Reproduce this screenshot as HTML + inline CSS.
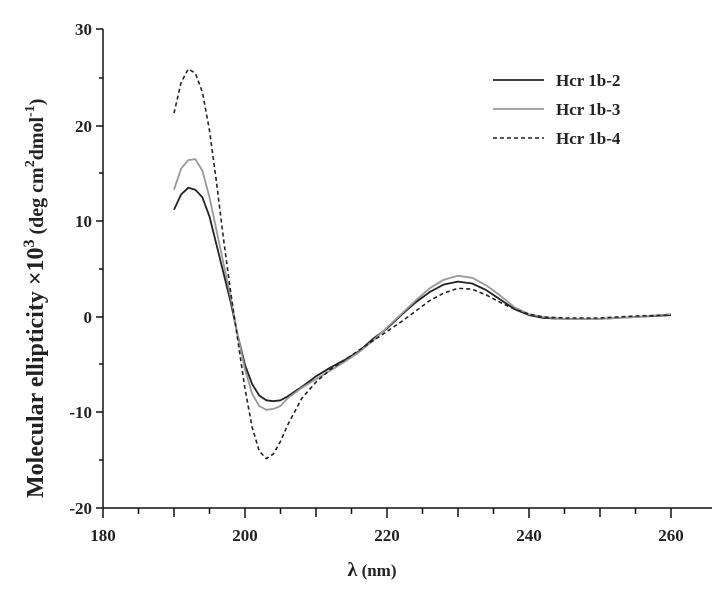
<!DOCTYPE html>
<html><head><meta charset="utf-8"><style>html,body{margin:0;padding:0;background:#fff}svg{display:block}</style></head>
<body>
<svg width="723" height="596" viewBox="0 0 723 596" xmlns="http://www.w3.org/2000/svg" font-family="'Liberation Serif',serif" font-weight="bold">
<g stroke="#111" stroke-width="1.5" fill="none">
<line x1="103" y1="29" x2="103" y2="508"/>
<line x1="103" y1="508" x2="712" y2="508"/>
<line x1="96" y1="29" x2="103" y2="29"/><line x1="96" y1="126" x2="103" y2="126"/><line x1="96" y1="221" x2="103" y2="221"/><line x1="96" y1="317" x2="103" y2="317"/><line x1="96" y1="412" x2="103" y2="412"/><line x1="96" y1="508" x2="103" y2="508"/>
<line x1="99" y1="78" x2="103" y2="78"/><line x1="99" y1="173" x2="103" y2="173"/><line x1="99" y1="269" x2="103" y2="269"/><line x1="99" y1="364" x2="103" y2="364"/><line x1="99" y1="460" x2="103" y2="460"/>
<line x1="103" y1="508" x2="103" y2="518"/><line x1="245" y1="508" x2="245" y2="518"/><line x1="387" y1="508" x2="387" y2="518"/><line x1="529" y1="508" x2="529" y2="518"/><line x1="671" y1="508" x2="671" y2="518"/>
<line x1="138.5" y1="508" x2="138.5" y2="514"/><line x1="174" y1="508" x2="174" y2="517"/><line x1="209.5" y1="508" x2="209.5" y2="514"/><line x1="280.5" y1="508" x2="280.5" y2="514"/><line x1="316" y1="508" x2="316" y2="517"/><line x1="351.5" y1="508" x2="351.5" y2="514"/><line x1="422.5" y1="508" x2="422.5" y2="514"/><line x1="458" y1="508" x2="458" y2="517"/><line x1="493.5" y1="508" x2="493.5" y2="514"/><line x1="564.5" y1="508" x2="564.5" y2="514"/><line x1="600" y1="508" x2="600" y2="517"/><line x1="635.5" y1="508" x2="635.5" y2="514"/>
</g>
<g font-size="17" fill="#222" text-anchor="end">
<text x="92" y="35">30</text><text x="92" y="132">20</text><text x="92" y="227">10</text><text x="92" y="323">0</text><text x="92" y="418">-10</text><text x="92" y="514">-20</text>
</g>
<g font-size="17" fill="#222" text-anchor="middle">
<text x="103" y="541">180</text><text x="245" y="541">200</text><text x="387" y="541">220</text><text x="529" y="541">240</text><text x="671" y="541">260</text>
<text x="372" y="576"><tspan font-size="20">λ</tspan> (nm)</text>
</g>
<text transform="translate(43,498) rotate(-90)" fill="#222" font-size="24">Molecular ellipticity ×10<tspan font-size="16" dy="-9">3</tspan><tspan font-size="20" dy="9"> (deg cm</tspan><tspan font-size="14" dy="-9">2</tspan><tspan font-size="20" dy="9">dmol</tspan><tspan font-size="14" dy="-9">-1</tspan><tspan font-size="20" dy="9">)</tspan></text>
<g fill="none" stroke-linejoin="round">
<polyline id="a" stroke="#222" stroke-width="1.8" points=""/>
<polyline id="b" stroke="#999" stroke-width="1.8" points=""/>
<polyline id="c" stroke="#222" stroke-width="1.6" stroke-dasharray="4,3" points=""/>
</g>
<g font-size="17" fill="#222">
<line x1="493" y1="80" x2="544" y2="80" stroke="#222" stroke-width="1.8"/><text x="556" y="86">Hcr 1b-2</text>
<line x1="493" y1="109" x2="544" y2="109" stroke="#999" stroke-width="1.8"/><text x="556" y="115">Hcr 1b-3</text>
<line x1="493" y1="138" x2="544" y2="138" stroke="#222" stroke-width="1.6" stroke-dasharray="4,3"/><text x="556" y="144">Hcr 1b-4</text>
</g>
<script>
function P(d){return d.map(function(p){return (103+(p[0]-180)*7.1).toFixed(1)+","+(317-p[1]*9.57).toFixed(1)}).join(" ")}
var A=[[190,11.2],[191,12.8],[192,13.5],[193,13.3],[194,12.5],[195,10.5],[196,7.5],[197,4.5],[198,1.5],[199,-2],[200,-5],[201,-7],[202,-8.2],[203,-8.7],[204,-8.8],[205,-8.7],[206,-8.3],[208,-7.3],[210,-6.2],[212,-5.3],[214,-4.5],[216,-3.6],[218,-2.3],[220,-1.2],[222,0.2],[224,1.5],[226,2.6],[228,3.4],[230,3.7],[232,3.5],[234,2.8],[236,1.8],[238,0.8],[240,0.2],[242,-0.1],[245,-0.2],[250,-0.2],[255,0],[260,0.2]];
var B=[[190,13.3],[191,15.5],[192,16.4],[193,16.5],[194,15.3],[195,12.5],[196,9],[197,5.5],[198,2],[199,-2],[200,-5.5],[201,-8],[202,-9.3],[203,-9.7],[204,-9.6],[205,-9.3],[206,-8.5],[208,-7.4],[210,-6.5],[212,-5.6],[214,-4.7],[216,-3.7],[218,-2.5],[220,-1.1],[222,0.3],[224,1.7],[226,3],[228,3.9],[230,4.3],[232,4.1],[234,3.3],[236,2.2],[238,1],[240,0.3],[242,0],[245,-0.2],[250,-0.2],[255,0],[260,0.3]];
var C=[[190,21.3],[191,24.5],[192,25.9],[193,25.5],[194,23.5],[195,19.5],[196,14],[197,8],[198,2.5],[199,-2.5],[200,-7.5],[201,-11.5],[202,-14],[203,-14.8],[204,-14.3],[205,-13],[206,-11.3],[208,-8.5],[210,-6.8],[212,-5.5],[214,-4.5],[216,-3.5],[218,-2.5],[220,-1.5],[222,-0.5],[224,0.6],[226,1.7],[228,2.5],[230,3],[232,2.9],[234,2.3],[236,1.5],[238,0.8],[240,0.3],[242,0],[245,-0.1],[250,-0.1],[255,0.1],[260,0.2]];
document.getElementById("a").setAttribute("points",P(A));
document.getElementById("b").setAttribute("points",P(B));
document.getElementById("c").setAttribute("points",P(C));
</script>
</svg>
</body></html>
